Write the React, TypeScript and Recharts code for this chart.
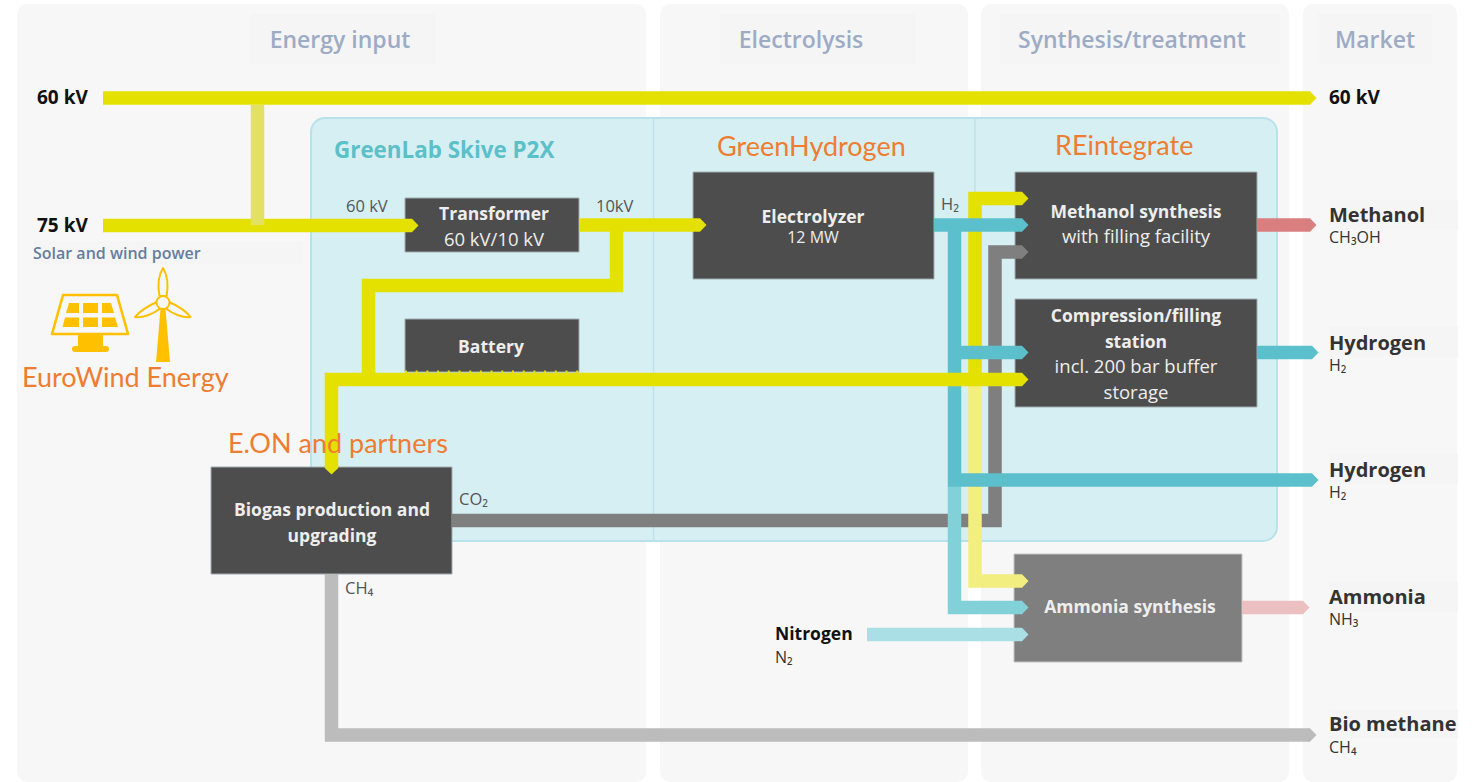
import React from "react";
import { ComposedChart, XAxis, YAxis, Line, Scatter, ReferenceArea } from "recharts";

type P = { x: number; y: number };
const pts = (...c: number[][]): P[] => c.map(([x, y]) => ({ x, y }));

// Schematic columns and blocks [x1, x2, y1, y2]
const columns = [[17, 646, 4, 782], [660, 968, 4, 782], [981, 1289, 4, 782], [1303, 1457, 4, 782]];
const captionBacks = [
  [250, 436, 13, 64], [720, 916, 13, 64], [1000, 1280, 13, 64], [1318, 1432, 13, 64],
  [33, 303, 241, 264], [1329, 1458, 200, 230], [1329, 1458, 327, 357], [1329, 1458, 454, 484],
  [1329, 1458, 582, 612], [1329, 1458, 709, 739],
];
const p2xArea = [311, 1277, 118, 541];
const darkBlocks = [
  [405, 579, 198, 252], [405, 579, 319, 372], [693, 934, 172, 279],
  [1015, 1257, 172, 279], [1015, 1257, 299, 407], [211, 452, 467, 574],
];
const greyBlocks = [[1014, 1242, 554, 662]];

const dividers = [pts([653.5, 118], [653.5, 541]), pts([975, 118], [975, 541])];

// Flows, in draw order
const co2 = pts([452, 520.5], [995, 520.5], [995, 252], [1022, 252]);
const ch4 = pts([331.5, 574], [331.5, 735], [1310, 735]);
const paleYellowH2 = pts([975, 386], [975, 581], [1022, 581]);
const paleTeal = pts([954.5, 486], [954.5, 607.5], [1022, 607.5]);
const nitrogen = pts([867, 634.5], [1022, 634.5]);
const ammoniaOut = pts([1242, 607.5], [1303, 607.5]);
const feed60 = pts([103, 98], [1310, 98]);
const feed75 = pts([103, 225.5], [412, 225.5]);
const tie = pts([257.5, 105], [257.5, 225]);
const out10 = pts([579, 225], [700, 225]);
const branch10 = pts([616.5, 225], [616.5, 285.5], [368.5, 285.5], [368.5, 380]);
const yellowRise = pts([975, 380], [975, 198.5], [1022, 198.5]);
const tealIn = pts([934, 225], [1022, 225]);
const tealDown = pts([954.5, 225], [954.5, 480], [1312, 480]);
const tealComp = pts([954.5, 352.5], [1022, 352.5]);
const hydrogenOut = pts([1257, 352.5], [1312, 352.5]);
const methanolOut = pts([1257, 225], [1310, 225]);
const busRight = pts([325, 379.5], [1022, 379.5]);
const busDown = pts([331.5, 373], [331.5, 468]);
const batteryTeeth = pts([405, 372], [579, 372]);

const flows: { d: P[]; c: string; arrow: boolean; dash?: string; w?: number }[] = [
  { d: co2, c: "#7f7f7f", arrow: true },
  { d: ch4, c: "#bcbcbc", arrow: true },
  { d: paleYellowH2, c: "#f2ee80", arrow: true },
  { d: paleTeal, c: "#82d1d9", arrow: true },
  { d: nitrogen, c: "#a9dfe5", arrow: true },
  { d: ammoniaOut, c: "#ecbfc0", arrow: true },
  { d: feed60, c: "#e4e000", arrow: true },
  { d: feed75, c: "#e4e000", arrow: true },
  { d: tie, c: "#e3e164", arrow: false },
  { d: out10, c: "#e4e000", arrow: true },
  { d: branch10, c: "#e4e000", arrow: false },
  { d: yellowRise, c: "#e4e000", arrow: true },
  { d: tealIn, c: "#5bc0cc", arrow: true },
  { d: tealDown, c: "#5bc0cc", arrow: true },
  { d: tealComp, c: "#5bc0cc", arrow: true },
  { d: hydrogenOut, c: "#5bc0cc", arrow: true },
  { d: methanolOut, c: "#d97f80", arrow: true },
  { d: busRight, c: "#e4e000", arrow: true },
  { d: busDown, c: "#e4e000", arrow: true },
  { d: batteryTeeth, c: "#e4e000", arrow: false, dash: "2 8.7", w: 3 },
];

// Text groups: [text, x, baseline y]
const titles: [string, number, number][] = [
  ["Energy input", 340, 48], ["Electrolysis", 801, 48], ["Synthesis/treatment", 1132, 48], ["Market", 1375, 48],
];
const voltages: [string, number, number][] = [["60 kV", 37, 104], ["75 kV", 37, 232], ["60 kV", 1329, 104]];
const owners: [string, number, number][] = [
  ["GreenHydrogen", 717, 156], ["REintegrate", 1055, 155], ["EuroWind Energy", 22, 387], ["E.ON and partners", 228, 453],
];
const smallTags: [string, number, number][] = [
  ["60 kV", 346, 212], ["10kV", 596, 212], ["H₂", 941, 210], ["CO₂", 459, 505], ["CH₄", 345, 594],
];
const blockHeads: [string, number, number][] = [
  ["Transformer", 494, 220], ["Electrolyzer", 813, 223], ["Battery", 491, 353],
  ["Methanol synthesis", 1136, 218], ["Compression/filling", 1136, 322], ["station", 1136, 348],
  ["Biogas production and", 332, 516], ["upgrading", 332, 542], ["Ammonia synthesis", 1130, 613],
];
const blockNotes: [string, number, number][] = [
  ["60 kV/10 kV", 494, 246], ["with filling facility", 1136, 243],
  ["incl. 200 bar buffer", 1136, 373], ["storage", 1136, 399],
];
const capacityNote: [string, number, number][] = [["12 MW", 813, 243]];
const products: [string, number, number][] = [
  ["Methanol", 1329, 222], ["Hydrogen", 1329, 350], ["Hydrogen", 1329, 477], ["Ammonia", 1329, 604], ["Bio methane", 1329, 731],
];
const formulas: [string, number, number][] = [
  ["CH₃OH", 1329, 243], ["H₂", 1329, 371], ["H₂", 1329, 498], ["NH₃", 1329, 625], ["CH₄", 1329, 753], ["N₂", 775, 663],
];
const feedstock: [string, number, number][] = [["Nitrogen", 775, 640]];
const p2xName: [string, number, number][] = [["GreenLab Skive P2X", 334, 158]];
const sourceName: [string, number, number][] = [["Solar and wind power", 33, 259]];
const iconAnchor = [{ x: 90, y: 320 }];

const SANS = "'Open Sans', sans-serif";
const LATO = "Lato, sans-serif";

const textStyles: { rows: [string, number, number][]; font: string; size: number; weight: number; fill: string; anchor: string }[] = [
  { rows: titles, font: SANS, size: 23, weight: 600, fill: "#9dabc5", anchor: "middle" },
  { rows: voltages, font: SANS, size: 19, weight: 700, fill: "#111111", anchor: "start" },
  { rows: owners, font: LATO, size: 27, weight: 400, fill: "#ee7d31", anchor: "start" },
  { rows: smallTags, font: SANS, size: 16.5, weight: 400, fill: "#555555", anchor: "start" },
  { rows: blockHeads, font: SANS, size: 17.5, weight: 700, fill: "#eeeeee", anchor: "middle" },
  { rows: blockNotes, font: SANS, size: 18.5, weight: 400, fill: "#eeeeee", anchor: "middle" },
  { rows: capacityNote, font: SANS, size: 16, weight: 400, fill: "#eeeeee", anchor: "middle" },
  { rows: products, font: SANS, size: 20, weight: 700, fill: "#333333", anchor: "start" },
  { rows: formulas, font: SANS, size: 16, weight: 400, fill: "#333333", anchor: "start" },
  { rows: feedstock, font: SANS, size: 17.5, weight: 700, fill: "#111111", anchor: "start" },
  { rows: p2xName, font: SANS, size: 22.4, weight: 700, fill: "#5cc0c9", anchor: "start" },
  { rows: sourceName, font: SANS, size: 16, weight: 600, fill: "#667d9f", anchor: "start" },
];

const arrowDot = (d: P[], color: string) => (props: any) => {
  const last = d.length - 1;
  if (props.index !== last) return <g key={props.index} />;
  const dx = Math.sign(d[last].x - d[last - 1].x);
  const dy = Math.sign(d[last].y - d[last - 1].y);
  const { cx, cy } = props;
  const h = 6.8;
  const L = 6.5;
  const p = [
    [cx - dy * h, cy + dx * h],
    [cx + dx * L, cy + dy * L],
    [cx + dy * h, cy - dx * h],
  ];
  return <polygon key={props.index} points={p.map((q) => q.join(",")).join(" ")} fill={color} />;
};

const makeText = (font: string, size: number, weight: number, fill: string, anchor: string) => (props: any) => (
  <text x={props.cx} y={props.cy} fontFamily={font} fontSize={size} fontWeight={weight} fill={fill} textAnchor={anchor as any}>
    {props.payload.label}
  </text>
);

const GOLD = "#ffc000";
const Icons = (props: any) => {
  const ox = props.cx - 90;
  const oy = props.cy - 320;
  return (
    <g transform={`translate(${ox} ${oy})`}>
      <path d="M63 295 L117 295 L128 334 L52 334 Z" fill="none" stroke={GOLD} strokeWidth={2.6} strokeLinejoin="round" />
      <path d="M69 303 L79 303 L79 313 L66 313 Z M83 303 L98 303 L98 313 L83 313 Z M102 303 L111 303 L114 313 L102 313 Z" fill={GOLD} />
      <path d="M65 317.500 L79 317.500 L79 327 L62.500 327 Z M83 317.500 L98 317.500 L98 327 L83 327 Z M102 317.500 L115 317.500 L118 327 L102 327 Z" fill={GOLD} />
      <rect x={78} y={335} width={25} height={12} fill={GOLD} />
      <rect x={72} y={346} width={37} height={6} rx={3} fill={GOLD} />
      <path d="M160.500 309 L165.500 309 L170 362 L156 362 Z" fill={GOLD} />
      <path d="M163 268 C158 276 158 288 159.500 296 L166.500 296 C168 288 168 276 163 268 Z" fill="none" stroke={GOLD} strokeWidth={2} strokeLinejoin="round" />
      <path d="M157 302 C150 305 140 311 135 317 C143 318 153 314 159.500 309 Z" fill="none" stroke={GOLD} strokeWidth={2} strokeLinejoin="round" />
      <path d="M169 302 C176 305 186 311 190.500 317 C183 318 173 314 166.500 309 Z" fill="none" stroke={GOLD} strokeWidth={2} strokeLinejoin="round" />
      <circle cx={163} cy={302.500} r={6.500} fill="#f7f7f7" stroke={GOLD} strokeWidth={2} />
    </g>
  );
};

const area = (b: number[], i: string, fill: string, stroke: string, sw: number, radius = 0) => (
  <ReferenceArea key={i} x1={b[0]} x2={b[1]} y1={b[2]} y2={b[3]} fill={fill} fillOpacity={1} stroke={stroke} strokeWidth={sw} radius={radius} />
);

export default function App() {
  return (
    <div style={{ position: "absolute", left: 0, top: 0, width: 1478, height: 782, background: "#ffffff" }}>
      <ComposedChart width={1478} height={782} margin={{ top: 0, right: 0, bottom: 0, left: 0 }}>
        <XAxis dataKey="x" type="number" domain={[0, 1478]} hide />
        <YAxis dataKey="y" type="number" domain={[0, 782]} reversed hide />
        {columns.map((b, i) => area(b, `col${i}`, "#f7f7f7", "none", 0, 10))}
        {captionBacks.map((b, i) => area(b, `cap${i}`, "#f5f5f5", "none", 0))}
        {area(p2xArea, "p2x", "#d6eff3", "#b7e2e9", 2, 14)}
        {darkBlocks.map((b, i) => area(b, `dark${i}`, "#4d4d4d", "#a0adb0", 1))}
        {greyBlocks.map((b, i) => area(b, `grey${i}`, "#7f7f7f", "#c4c4c4", 1))}
        {dividers.map((d, i) => (
          <Line key={`div${i}`} data={d} dataKey="y" stroke="#bde3e9" strokeWidth={1.5} dot={false} activeDot={false} isAnimationActive={false} legendType="none" />
        ))}
        {flows.map((f, i) => (
          <Line
            key={`flow${i}`}
            data={f.d}
            dataKey="y"
            type="linear"
            stroke={f.c}
            strokeWidth={f.w ?? 13.5}
            strokeDasharray={f.dash}
            strokeLinecap="butt"
            strokeLinejoin="miter"
            dot={f.arrow ? arrowDot(f.d, f.c) : false}
            activeDot={false}
            isAnimationActive={false}
            legendType="none"
          />
        ))}
        <Scatter data={iconAnchor} dataKey="y" shape={Icons} isAnimationActive={false} legendType="none" />
        {textStyles.map((s, i) => (
          <Scatter
            key={`txt${i}`}
            data={s.rows.map(([label, x, y]) => ({ label, x, y }))}
            dataKey="y"
            shape={makeText(s.font, s.size, s.weight, s.fill, s.anchor)}
            isAnimationActive={false}
            legendType="none"
          />
        ))}
      </ComposedChart>
    </div>
  );
}
